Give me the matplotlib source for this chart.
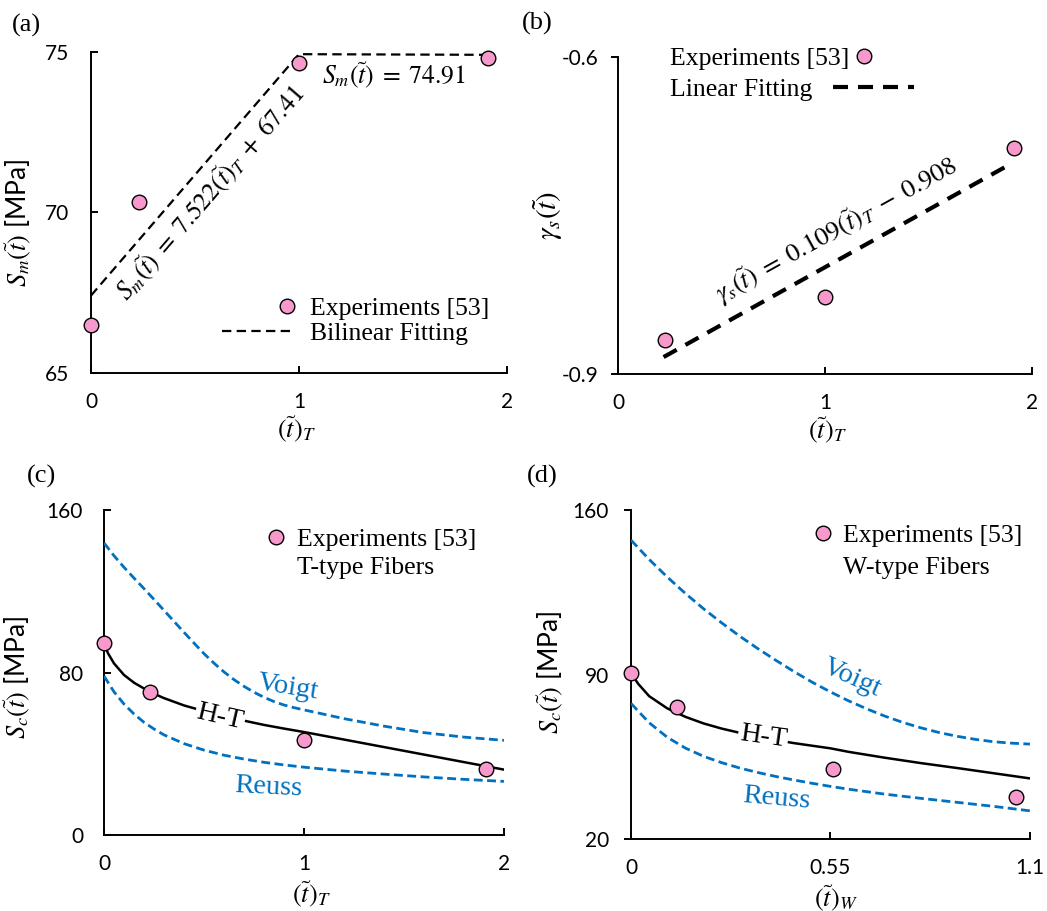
import numpy as np
import matplotlib
matplotlib.use("Agg")
import matplotlib.pyplot as plt
from matplotlib.lines import Line2D

plt.rcParams["mathtext.fontset"] = "stix"
plt.rcParams["axes.unicode_minus"] = False

SERIF = "Liberation Serif"
SANS = "Lato"
PINK = "#F799CC"
BLUE = "#0070C0"

# (a) matrix strength vs time
a_exp_t = [0.0, 0.229, 1.0, 1.909]
a_exp_s = [66.5, 70.31, 74.67, 74.8]
a_fit_t = [0.0, 1.0, 1.9]
a_fit_s = [67.41, 74.93, 74.91]

# (b) gamma_s vs time
b_exp_t = [0.227, 1.0, 1.913]
b_exp_g = [-0.868, -0.827, -0.686]
b_fit_t = [0.22, 1.89]
b_fit_g = [-0.884, -0.702]

# (c) composite strength, T-type fibers
c_exp_t = [0.0, 0.228, 1.0, 1.91]
c_exp_s = [94.4, 70.2, 46.8, 32.3]
c_voigt_t = [0.0, 0.05, 0.1, 0.15, 0.2, 0.25, 0.3, 0.35, 0.4, 0.45, 0.5, 0.55,
             0.6, 0.65, 0.7, 0.75, 0.8, 0.85, 0.9, 0.95, 1.0, 1.2, 1.4, 1.6,
             1.8, 2.0]
c_voigt_s = [143.8, 137.5, 131.8, 126.5, 121.3, 116.0, 110.6, 105.2, 99.8,
             94.5, 89.3, 84.6, 80.3, 76.5, 73.2, 70.3, 67.8, 65.7, 64.0, 62.7,
             61.6, 57.3, 53.6, 50.4, 48.2, 46.6]
c_reuss_t = [0.0, 0.05, 0.1, 0.15, 0.2, 0.25, 0.3, 0.4, 0.5, 0.6, 0.7, 0.8,
             0.9, 1.0, 1.2, 1.4, 1.6, 1.8, 2.0]
c_reuss_s = [78.3, 70.5, 64.5, 59.6, 55.5, 52.2, 49.3, 45.0, 41.8, 39.3, 37.4,
             35.8, 34.5, 33.4, 31.5, 30.0, 28.6, 27.4, 26.4]
c_ht_t = [0.0, 0.02, 0.05, 0.1, 0.15, 0.23, 0.3, 0.4, 0.5, 0.6, 0.7, 0.8, 0.9,
          1.0, 1.2, 1.4, 1.6, 1.8, 2.0]
c_ht_s = [94.4, 89.5, 84.5, 78.8, 75.0, 70.4, 67.4, 63.8, 61.0, 58.6, 56.3,
          54.2, 52.4, 50.7, 47.0, 43.3, 39.6, 35.9, 32.2]

# (d) composite strength, W-type fibers
d_exp_t = [0.0, 0.128, 0.556, 1.062]
d_exp_s = [90.6, 76.4, 49.9, 38.1]
d_voigt_t = [0.0, 0.05, 0.1, 0.15, 0.2, 0.25, 0.3, 0.35, 0.4, 0.45, 0.5, 0.55,
             0.6, 0.65, 0.7, 0.75, 0.8, 0.85, 0.9, 0.95, 1.0, 1.05, 1.1]
d_voigt_s = [147.2, 139.0, 131.5, 124.5, 118.0, 112.0, 106.3, 101.0, 96.0, 91.2,
             86.7, 82.6, 78.8, 75.4, 72.3, 69.6, 67.3, 65.3, 63.7, 62.4, 61.4,
             60.8, 60.4]
d_reuss_t = [0.0, 0.05, 0.1, 0.15, 0.2, 0.25, 0.3, 0.35, 0.4, 0.45, 0.5, 0.55,
             0.6, 0.7, 0.8, 0.9, 1.0, 1.1]
d_reuss_s = [77.7, 69.5, 63.3, 58.7, 55.2, 52.5, 50.2, 48.3, 46.6, 45.1, 43.7,
             42.4, 41.2, 39.1, 37.3, 35.6, 33.9, 32.0]
d_ht_t = [0.0, 0.02, 0.05, 0.1, 0.15, 0.2, 0.25, 0.3, 0.35, 0.4, 0.45, 0.5,
          0.55, 0.6, 0.7, 0.8, 0.9, 1.0, 1.1]
d_ht_s = [90.6, 86.0, 80.8, 75.6, 72.0, 69.2, 67.0, 65.2, 63.6, 62.1, 60.8,
          59.7, 58.6, 57.1, 54.6, 52.3, 50.2, 48.0, 45.8]


def style_axes(ax, xlim, xticks, xlabels, ylim, yticks, ylabels, ydir, ypad):
    ax.set_xlim(*xlim)
    ax.set_ylim(*ylim)
    for side in ("top", "right"):
        ax.spines[side].set_visible(False)
    for side in ("left", "bottom"):
        ax.spines[side].set_linewidth(1.4)
        ax.spines[side].set_color("black")
    ax.set_xticks(xticks)
    ax.set_xticklabels(xlabels, fontfamily=SANS, fontsize=15)
    ax.set_yticks(yticks)
    ax.set_yticklabels(ylabels, fontfamily=SANS, fontsize=15)
    ax.tick_params(axis="x", direction="in", length=5, width=1.4, pad=14)
    ax.tick_params(axis="y", direction=ydir, length=5, width=1.4, pad=ypad)


def exp_points(ax, t, s):
    ax.plot(t, s, linestyle="none", marker="o", markersize=10.5,
            markerfacecolor=PINK, markeredgecolor="black", markeredgewidth=1.0,
            clip_on=False, zorder=5)


def one_entry_legend(ax, handle, text, anchor, hlen, hpad, first=True):
    return ax.legend([handle], [text], loc="upper left", bbox_to_anchor=anchor,
                     frameon=False, prop={"family": SERIF, "size": 18.5},
                     markerfirst=first, handlelength=hlen, handletextpad=hpad,
                     borderpad=0, borderaxespad=0)


fig = plt.figure(figsize=(10.47, 9.11), dpi=100)
ax_a = fig.add_axes([0.0869, 0.5906, 0.3973, 0.3524])
ax_b = fig.add_axes([0.5903, 0.5895, 0.3954, 0.3480])
ax_c = fig.add_axes([0.0993, 0.0834, 0.3820, 0.3568])
ax_d = fig.add_axes([0.6027, 0.0790, 0.3810, 0.3611])

h_exp = Line2D([], [], linestyle="none", marker="o", markersize=10.5,
               markerfacecolor=PINK, markeredgecolor="black", markeredgewidth=1.0)
h_none = Line2D([], [], linestyle="none", marker="none")

# ---- (a)
style_axes(ax_a, (0, 2), [0, 1, 2], ["0", "1", "2"],
           (65, 75), [65, 70, 75], ["65", "70", "75"], "in", 16)
ax_a.plot(a_fit_t, a_fit_s, color="black", lw=1.6, dashes=(4.2, 2.4),
          clip_on=False, zorder=3)
exp_points(ax_a, a_exp_t, a_exp_s)
ax_a.text(0.575, 70.6, r"$S_m(\tilde{t})\;=\;7.522(\tilde{t})_T\;+\;67.41$",
          fontsize=18.5, rotation=49.2, rotation_mode="anchor",
          ha="center", va="center")
ax_a.text(1.11, 74.28, r"$S_m(\tilde{t})\;=\;74.91$", fontsize=18.5,
          ha="left", va="center")
h_fit = Line2D([], [], color="black", lw=1.6, dashes=(4.2, 2.4))
leg = ax_a.legend([h_exp, h_fit], ["Experiments [53]", "Bilinear Fitting"],
                  loc="upper left", bbox_to_anchor=(0.315, 0.236),
                  frameon=False, prop={"family": SERIF, "size": 18.5},
                  handlelength=2.84, handletextpad=0.58, labelspacing=0.08,
                  borderpad=0, borderaxespad=0)
hx = leg.legend_handles[0].get_xdata()
leg.legend_handles[0].set_xdata(np.full(len(hx), hx[-1] - 5.5))
ax_a.set_ylabel(r"$S_m(\tilde{t})$ [MPa]", fontfamily=SANS, fontsize=19)
ax_a.yaxis.set_label_coords(-0.14, 0.467)
ax_a.set_xlabel(r"$(\tilde{t})_T$", fontsize=19, va="center")
ax_a.xaxis.set_label_coords(0.495, -0.176)

# ---- (b)
style_axes(ax_b, (0, 2), [0, 1, 2], ["0", "1", "2"],
           (-0.9, -0.6), [-0.9, -0.6], ["-0.9", "-0.6"], "out", 9)
ax_b.plot(b_fit_t, b_fit_g, color="black", lw=3, dashes=(3.6, 2.4), zorder=3)
exp_points(ax_b, b_exp_t, b_exp_g)
ax_b.text(1.058, -0.764,
          r"$\gamma_s(\tilde{t})\;=\;0.109(\tilde{t})_T\;-\;0.908$",
          fontsize=19, rotation=29, rotation_mode="anchor",
          ha="center", va="center")
h_fit_b = Line2D([], [], color="black", lw=3, dashes=(3.6, 2.4))
leg1 = one_entry_legend(ax_b, h_exp, "Experiments [53]", (0.126, 1.03),
                        0.6, 0.25, first=False)
ax_b.add_artist(leg1)
one_entry_legend(ax_b, h_fit_b, "Linear Fitting", (0.126, 0.933),
                 3.15, 0.78, first=False)
ax_b.set_ylabel(r"$\gamma_s(\tilde{t})$", fontsize=21)
ax_b.yaxis.set_label_coords(-0.128, 0.50)
ax_b.set_xlabel(r"$(\tilde{t})_T$", fontsize=19, va="center")
ax_b.xaxis.set_label_coords(0.505, -0.176)

# ---- (c)
style_axes(ax_c, (0, 2), [0, 1, 2], ["0", "1", "2"],
           (0, 160), [0, 80, 160], ["0", "80", "160"], "in", 15)
ax_c.plot(c_voigt_t, c_voigt_s, color=BLUE, lw=2, dashes=(3.2, 1.6), zorder=3)
ax_c.plot(c_reuss_t, c_reuss_s, color=BLUE, lw=2, dashes=(3.2, 1.6), zorder=3)
ax_c.plot(c_ht_t, c_ht_s, color="black", lw=1.8, zorder=3)
exp_points(ax_c, c_exp_t, c_exp_s)
ax_c.text(0.92, 72.4, "Voigt", color=BLUE, fontfamily=SERIF, fontsize=20.5,
          rotation=-9, ha="center", va="center", zorder=4)
ax_c.text(0.58, 58.0, "H-T", color="black", fontfamily=SERIF, fontsize=20.5,
          rotation=-13, ha="center", va="center", zorder=4,
          bbox=dict(facecolor="white", edgecolor="none", pad=1))
ax_c.text(0.82, 23.6, "Reuss", color=BLUE, fontfamily=SERIF, fontsize=20.5,
          rotation=-3, ha="center", va="center", zorder=4)
ax_c.legend([h_exp, h_none], ["Experiments [53]", "T-type Fibers"],
            loc="upper left", bbox_to_anchor=(0.412, 0.944),
            frameon=False, prop={"family": SERIF, "size": 18.5},
            handlelength=0.6, handletextpad=0.5, labelspacing=0.2,
            borderpad=0, borderaxespad=0)
ax_c.set_ylabel(r"$S_c(\tilde{t})$ [MPa]", fontfamily=SANS, fontsize=19)
ax_c.yaxis.set_label_coords(-0.18, 0.486)
ax_c.set_xlabel(r"$(\tilde{t})_T$", fontsize=19, va="center")
ax_c.xaxis.set_label_coords(0.52, -0.182)

# ---- (d)
style_axes(ax_d, (0, 1.1), [0, 0.55, 1.1], ["0", "0.55", "1.1"],
           (20, 160), [20, 90, 160], ["20", "90", "160"], "out", 11)
ax_d.plot(d_voigt_t, d_voigt_s, color=BLUE, lw=2, dashes=(3.2, 1.6), zorder=3)
ax_d.plot(d_reuss_t, d_reuss_s, color=BLUE, lw=2, dashes=(3.2, 1.6), zorder=3)
ax_d.plot(d_ht_t, d_ht_s, color="black", lw=1.8, zorder=3)
exp_points(ax_d, d_exp_t, d_exp_s)
ax_d.text(0.608, 88.4, "Voigt", color=BLUE, fontfamily=SERIF, fontsize=20.5,
          rotation=-24, ha="center", va="center", zorder=4)
ax_d.text(0.364, 63.3, "H-T", color="black", fontfamily=SERIF, fontsize=20.5,
          rotation=-8, ha="center", va="center", zorder=4,
          bbox=dict(facecolor="white", edgecolor="none", pad=1))
ax_d.text(0.401, 37.3, "Reuss", color=BLUE, fontfamily=SERIF, fontsize=20.5,
          rotation=-5, ha="center", va="center", zorder=4)
ax_d.legend([h_exp, h_none], ["Experiments [53]", "W-type Fibers"],
            loc="upper left", bbox_to_anchor=(0.461, 0.957),
            frameon=False, prop={"family": SERIF, "size": 18.5},
            handlelength=0.6, handletextpad=0.5, labelspacing=0.35,
            borderpad=0, borderaxespad=0)
ax_d.set_ylabel(r"$S_c(\tilde{t})$ [MPa]", fontfamily=SANS, fontsize=19)
ax_d.yaxis.set_label_coords(-0.165, 0.508)
ax_d.set_xlabel(r"$(\tilde{t})_W$", fontsize=19, va="center")
ax_d.xaxis.set_label_coords(0.514, -0.18)

# panel letters
for label, x, y in [("(a)", 26, 25), ("(b)", 537, 23), ("(c)", 41, 476), ("(d)", 542, 476)]:
    fig.text(x / 1047, 1 - y / 911, label, fontfamily=SERIF, fontsize=19,
             ha="center", va="center")

fig.savefig("out.png", dpi=100)
